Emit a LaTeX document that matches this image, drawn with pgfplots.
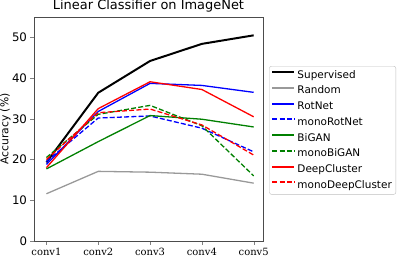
\documentclass[border=0pt]{standalone}
\usepackage{pgfplots}
\pgfplotsset{compat=1.18}
\usepackage{fontspec}
\setmainfont{DejaVu Sans}
\newfontfamily\seriffont{DejaVu Serif}
\definecolor{mgreen}{HTML}{008000}
\definecolor{mgray}{HTML}{999999}
\begin{document}
\begin{tikzpicture}[x=1bp,y=1bp]
\path[use as bounding box] (-34,-19) rectangle (373,241);
\begin{axis}[
  at={(0,0)}, anchor=south west,
  scale only axis, width=229bp, height=224bp,
  xmin=-0.24, xmax=4.18, ymin=0, ymax=55,
  xtick={0,1,2,3,4},
  xticklabels={conv1,conv2,conv3,conv4,conv5},
  xticklabel style={font=\seriffont\fontsize{10}{12}\selectfont},
  ytick={0,10,20,30,40,50},
  yticklabel style={font=\fontsize{11.8}{13}\selectfont},
  /pgf/number format/assume math mode=true,
  tick align=outside, tick pos=left,
  major tick length=3.5bp,
  axis line style={black!70, line width=0.8pt},
  ylabel={Accuracy (\%)},
  ylabel style={font=\fontsize{10.8}{12}\selectfont, yshift=-5.5bp},
  title={Linear Classifier on ImageNet},
  title style={font=\fontsize{13}{15}\selectfont, yshift=-4.5bp},
  legend style={at={(1.0275,0.781)}, anchor=north west,
    draw=black!25, rounded corners=2bp, font=\fontsize{10.5}{12}\selectfont,
    row sep=1.5bp, inner sep=2bp,
    nodes={inner sep=2bp, text height=8bp, text depth=2.2bp}},
  legend cell align=left,
  legend image code/.code={\draw[#1, line width=2bp] (0bp,3bp) -- (22bp,3bp);},
]
\addplot[draw=black, line width=2pt] coordinates {(0,19.3) (1,36.4) (2,44.2) (3,48.4) (4,50.5)};
\addlegendentry{Supervised}
\addplot[draw=mgray, line width=1.3pt] coordinates {(0,11.6) (1,17.1) (2,16.9) (3,16.4) (4,14.2)};
\addlegendentry{Random}
\addplot[draw=blue, line width=1.3pt] coordinates {(0,18.8) (1,31.8) (2,38.7) (3,38.2) (4,36.5)};
\addlegendentry{RotNet}
\addplot[draw=blue, line width=1.3pt, dash pattern=on 5bp off 2.2bp] coordinates {(0,19.5) (1,30.2) (2,30.7) (3,27.7) (4,21.9)};
\addlegendentry{monoRotNet}
\addplot[draw=mgreen, line width=1.3pt] coordinates {(0,17.7) (1,24.4) (2,30.8) (3,29.9) (4,28.0)};
\addlegendentry{BiGAN}
\addplot[draw=mgreen, line width=1.3pt, dash pattern=on 5bp off 2.2bp] coordinates {(0,20.5) (1,31.1) (2,33.3) (3,28.3) (4,16.0)};
\addlegendentry{monoBiGAN}
\addplot[draw=red, line width=1.3pt] coordinates {(0,18.0) (1,32.5) (2,39.1) (3,37.2) (4,30.5)};
\addlegendentry{DeepCluster}
\addplot[draw=red, line width=1.3pt, dash pattern=on 5bp off 2.2bp] coordinates {(0,20.0) (1,31.5) (2,32.4) (3,28.5) (4,21.1)};
\addlegendentry{monoDeepCluster}
\end{axis}
\end{tikzpicture}
\end{document}
